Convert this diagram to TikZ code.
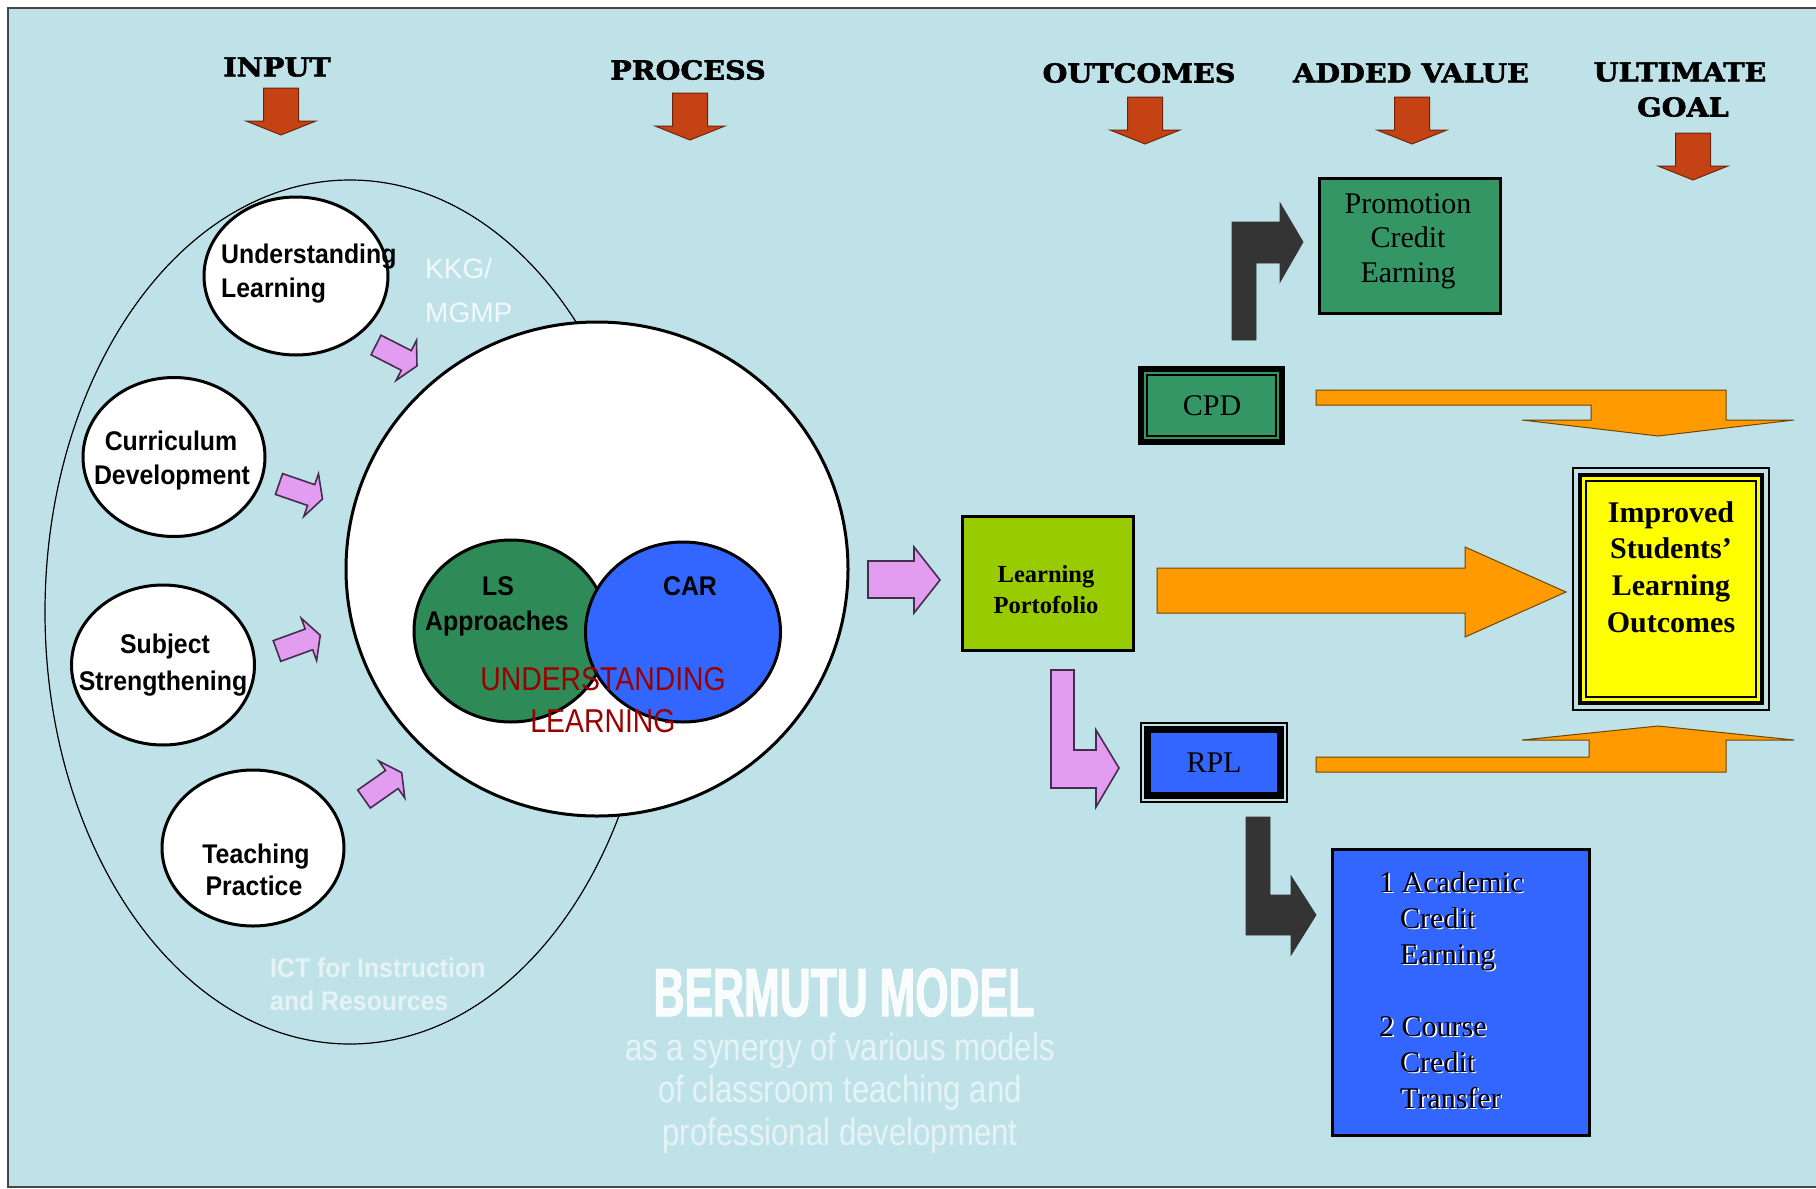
\documentclass[tikz,border=0pt]{standalone}
\usepackage{fontspec}
\setmainfont{Liberation Serif}
\newfontfamily\hdrfont[FakeStretch=1.1, FakeBold=2.2]{DejaVu Serif}
\newfontfamily\circfont[FakeStretch=0.92]{Liberation Sans}
\newfontfamily\redfont[FakeStretch=0.86]{Liberation Sans}
\newfontfamily\plainsans{Liberation Sans}
\newfontfamily\heavyfont[FakeStretch=0.63, FakeBold=1.5]{Liberation Sans}
\newfontfamily\narrowfont[FakeStretch=0.82]{Liberation Sans}
\usetikzlibrary{shapes.geometric}

\definecolor{bgblue}{RGB}{190,226,232}
\definecolor{framegray}{RGB}{70,70,70}
\definecolor{hdrred}{RGB}{196,66,20}
\definecolor{hdrredline}{RGB}{110,36,10}
\definecolor{lilac}{RGB}{226,156,240}
\definecolor{lilacline}{RGB}{70,45,80}
\definecolor{lsgreen}{RGB}{46,139,87}
\definecolor{boxgreen}{RGB}{52,150,100}
\definecolor{carblue}{RGB}{51,102,255}
\definecolor{lpgreen}{RGB}{153,204,0}
\definecolor{goalyellow}{RGB}{255,255,0}
\definecolor{arrorange}{RGB}{255,155,0}
\definecolor{arrorangeline}{RGB}{110,70,0}
\definecolor{darkarrow}{RGB}{52,52,52}
\definecolor{darkredtext}{RGB}{153,0,0}

% downward block arrow under a column heading: centre x, top y
\newcommand\DownBlock[2]{%
  \draw[hdrarrow] (#1-17.5,#2) -- (#1+17.5,#2) -- (#1+17.5,#2+33) -- (#1+35,#2+33)
    -- (#1,#2+47) -- (#1-35,#2+33) -- (#1-17.5,#2+33) -- cycle;}
% small lilac block arrow: tail x, tail y, direction angle
\newcommand\SmallBlock[3]{%
  \draw[lilacarrow, shift={(#1,#2)}, rotate=#3]
    (0,-11) -- (34,-11) -- (34,-22.5) -- (46,0) -- (34,22.5) -- (34,11) -- (0,11) -- cycle;}
% embossed text line in the credit box
\newcommand\EmbossLine[4]{%
  \node[acadtxt, text=white] at (#2+1.6,#3+1.6) {#4};
  \node[acadtxt] (#1) at (#2,#3) {#4};}

\begin{document}
\begin{tikzpicture}[x=1pt,y=-1pt,
  hdr/.style={font=\hdrfont\bfseries\fontsize{26}{30}\selectfont, inner sep=0pt},
  hdrarrow/.style={fill=hdrred, draw=hdrredline, line width=1pt, line join=miter},
  lilacarrow/.style={fill=lilac, draw=lilacline, line width=1.6pt, line join=miter},
  darkbent/.style={fill=darkarrow, draw=darkarrow, line width=0.8pt, line join=miter},
  orangearrow/.style={fill=arrorange, draw=arrorangeline, line width=1pt, line join=miter},
  whitecirc/.style={ellipse, draw=black, line width=3pt, fill=white, inner sep=0pt, outer sep=0pt},
  circtxt/.style={font=\circfont\bfseries\fontsize{27}{30}\selectfont, inner sep=0pt, anchor=base},
  redtxt/.style={font=\redfont\fontsize{33}{36}\selectfont, text=darkredtext, inner sep=0pt, anchor=base},
  kkgtxt/.style={font=\plainsans\fontsize{28}{30}\selectfont, text=white, text opacity=0.8, inner sep=0pt, anchor=base west},
  icttxt/.style={font=\circfont\bfseries\fontsize{27}{30}\selectfont, text=white, text opacity=0.6, inner sep=0pt, anchor=base west},
  bigtitle/.style={font=\heavyfont\bfseries\fontsize{68}{72}\selectfont, text=white, text opacity=0.92, inner sep=0pt, anchor=base},
  subtitle/.style={font=\narrowfont\fontsize{38}{40}\selectfont, text=white, text opacity=0.62, inner sep=0pt, anchor=base},
  boxbase/.style={rectangle, draw=black, inner sep=0pt, outer sep=0pt},
  sreg/.style={font=\fontsize{30}{34}\selectfont, inner sep=0pt, anchor=base},
  sbold/.style={font=\bfseries\fontsize{30}{34}\selectfont, inner sep=0pt, anchor=base},
  lptxt/.style={font=\bfseries\fontsize{24.5}{28}\selectfont, inner sep=0pt, anchor=base},
  acadtxt/.style={font=\fontsize{30}{34}\selectfont, inner sep=0pt, anchor=base west}
]
\useasboundingbox (0,0) rectangle (1816,1189);
\clip (0,0) rectangle (1816,1189);
\fill[white] (0,0) rectangle (1816,1189);
\draw[framegray, line width=1.5pt, fill=bgblue] (8,8) rectangle (1840,1187);

% column headings and their arrows
\node[hdr] (hin) at (277,67) {INPUT};
\node[hdr] (hproc) at (688,70) {PROCESS};
\node[hdr] (hout) at (1139,73) {OUTCOMES};
\node[hdr] (hadd) at (1411,73) {ADDED VALUE};
\node[hdr] (hult) at (1680,72) {ULTIMATE};
\node[hdr] (hgoal) at (1683,107) {GOAL};
\DownBlock{281}{88}
\DownBlock{690}{93}
\DownBlock{1145}{97}
\DownBlock{1412}{97}
\DownBlock{1693}{133}

% input ring with the four input circles
\node[ellipse, draw=black, line width=1.2pt, minimum width=610pt, minimum height=864pt, inner sep=0pt] (ring) at (350,612) {};
\node[whitecirc, minimum width=184pt, minimum height=158pt] (cul) at (296,276) {};
\node[whitecirc, minimum width=182pt, minimum height=159pt] (ccd) at (174,457) {};
\node[whitecirc, minimum width=183pt, minimum height=160pt] (css) at (163,665) {};
\node[whitecirc, minimum width=182pt, minimum height=156pt] (ctp) at (253,848) {};

\node[circtxt, anchor=base west] (ul1) at (221,263) {Understanding};
\node[circtxt, anchor=base west] (ul2) at (221,297) {Learning};
\node[circtxt] (cd1) at (171,450) {Curriculum};
\node[circtxt] (cd2) at (172,484) {Development};
\node[circtxt] (ss1) at (165,653) {Subject};
\node[circtxt] (ss2) at (163,690) {Strengthening};
\node[circtxt] (tp1) at (256,863) {Teaching};
\node[circtxt] (tp2) at (254,895) {Practice};

\SmallBlock{376}{345}{-27}
\SmallBlock{279}{484}{-19}
\SmallBlock{277}{651}{20}
\SmallBlock{364}{799}{35}

\node[kkgtxt] (kkg1) at (425,278) {KKG/};
\node[kkgtxt] (kkg2) at (425,322) {MGMP};
\node[icttxt] (ict1) at (270,977) {ICT for Instruction};
\node[icttxt] (ict2) at (270,1010) {and Resources};

% process circle
\node[whitecirc, minimum width=502pt, minimum height=494pt] (core) at (597,569) {};
\node[ellipse, draw=black, line width=3pt, fill=lsgreen, minimum width=194pt, minimum height=182pt, inner sep=0pt] (ls) at (511,631) {};
\node[ellipse, draw=black, line width=3pt, fill=carblue, minimum width=195pt, minimum height=180pt, inner sep=0pt] (car) at (683,632) {};
\node[circtxt] (lst1) at (498,595) {LS};
\node[circtxt] (lst2) at (497,630) {Approaches};
\node[circtxt] (cart) at (690,595) {CAR};
\node[redtxt] (ul3) at (603,690) {UNDERSTANDING};
\node[redtxt] (ul4) at (603,732) {LEARNING};

% title
\node[bigtitle] (title) at (844,1016) {BERMUTU MODEL};
\node[subtitle] (sub1) at (840,1060) {as a synergy of various models};
\node[subtitle] (sub2) at (840,1102) {of classroom teaching and};
\node[subtitle] (sub3) at (840,1145) {professional development};

% process -> learning portfolio
\draw[lilacarrow] (868,561) -- (914,561) -- (914,547) -- (940,580) -- (914,613) -- (914,598) -- (868,598) -- cycle;
\node[boxbase, line width=3pt, fill=lpgreen, minimum width=171pt, minimum height=134pt] (lp) at (1048,583.5) {};
\node[lptxt] (lp1) at (1046,582) {Learning};
\node[lptxt] (lp2) at (1046,613) {Portofolio};

% learning portfolio -> RPL
\draw[lilacarrow] (1051,670) -- (1074,670) -- (1074,750) -- (1096,750) -- (1096,730) -- (1119,768)
  -- (1096,807) -- (1096,788) -- (1051,788) -- cycle;

% CPD and promotion
\node[boxbase, line width=6pt, fill=boxgreen, minimum width=141pt, minimum height=73pt] (cpd) at (1211.5,405.5) {};
\draw[line width=1.2pt] ([shift={(6,6)}]cpd.north west) rectangle ([shift={(-6,-6)}]cpd.south east);
\node[sreg] (cpdt) at (1212,415) {CPD};
\draw[darkbent] (1232,340) -- (1232,222) -- (1280,222) -- (1280,203) -- (1303,242) -- (1280,282)
  -- (1280,263) -- (1256,263) -- (1256,340) -- cycle;
\node[boxbase, line width=3pt, fill=boxgreen, minimum width=181pt, minimum height=135pt] (promo) at (1410,246) {};
\node[sreg] (pr1) at (1408,213) {Promotion};
\node[sreg] (pr2) at (1408,247) {Credit};
\node[sreg] (pr3) at (1408,282) {Earning};

% ultimate goal
\node[boxbase, line width=4pt, fill=goalyellow, minimum width=182pt, minimum height=228pt] (goal) at (1671,589) {};
\draw[line width=1.5pt] ([shift={(-7,-7)}]goal.north west) rectangle ([shift={(7,7)}]goal.south east);
\draw[line width=1.5pt] ([shift={(6,6)}]goal.north west) rectangle ([shift={(-6,-6)}]goal.south east);
\node[sbold] (g1) at (1671,522) {Improved};
\node[sbold] (g2) at (1671,558.5) {Students’};
\node[sbold] (g3) at (1671,595) {Learning};
\node[sbold] (g4) at (1671,632) {Outcomes};

% orange arrows towards the goal
\draw[orangearrow] (1157,568) -- (1465,568) -- (1465,547) -- (1566,592) -- (1465,637) -- (1465,613) -- (1157,613) -- cycle;
\draw[orangearrow] (1316,390) -- (1726,390) -- (1726,420) -- (1794,420) -- (1658,436) -- (1522,420)
  -- (1591,420) -- (1591,405) -- (1316,405) -- cycle;
\draw[orangearrow] (1316,772) -- (1726,772) -- (1726,740) -- (1794,740) -- (1658,726) -- (1522,740)
  -- (1589,740) -- (1589,757) -- (1316,757) -- cycle;

% RPL and credit transfer
\node[boxbase, line width=7pt, fill=carblue, minimum width=133pt, minimum height=66pt] (rpl) at (1214,762.5) {};
\draw[line width=1.3pt] ([shift={(-6.5,-6.5)}]rpl.north west) rectangle ([shift={(6.5,6.5)}]rpl.south east);
\node[sreg] (rplt) at (1214,772) {RPL};
\draw[darkbent] (1246,817) -- (1270,817) -- (1270,895) -- (1291,895) -- (1291,876) -- (1316,915)
  -- (1291,955) -- (1291,935) -- (1246,935) -- cycle;
\node[boxbase, line width=3pt, fill=carblue, minimum width=257pt, minimum height=286pt] (acad) at (1461,992.5) {};
\EmbossLine{ac1}{1379}{892}{1 Academic}
\EmbossLine{ac2}{1400}{928}{Credit}
\EmbossLine{ac3}{1400}{964}{Earning}
\EmbossLine{ac4}{1379}{1036}{2 Course}
\EmbossLine{ac5}{1400}{1072}{Credit}
\EmbossLine{ac6}{1400}{1108}{Transfer}
\end{tikzpicture}
\end{document}
